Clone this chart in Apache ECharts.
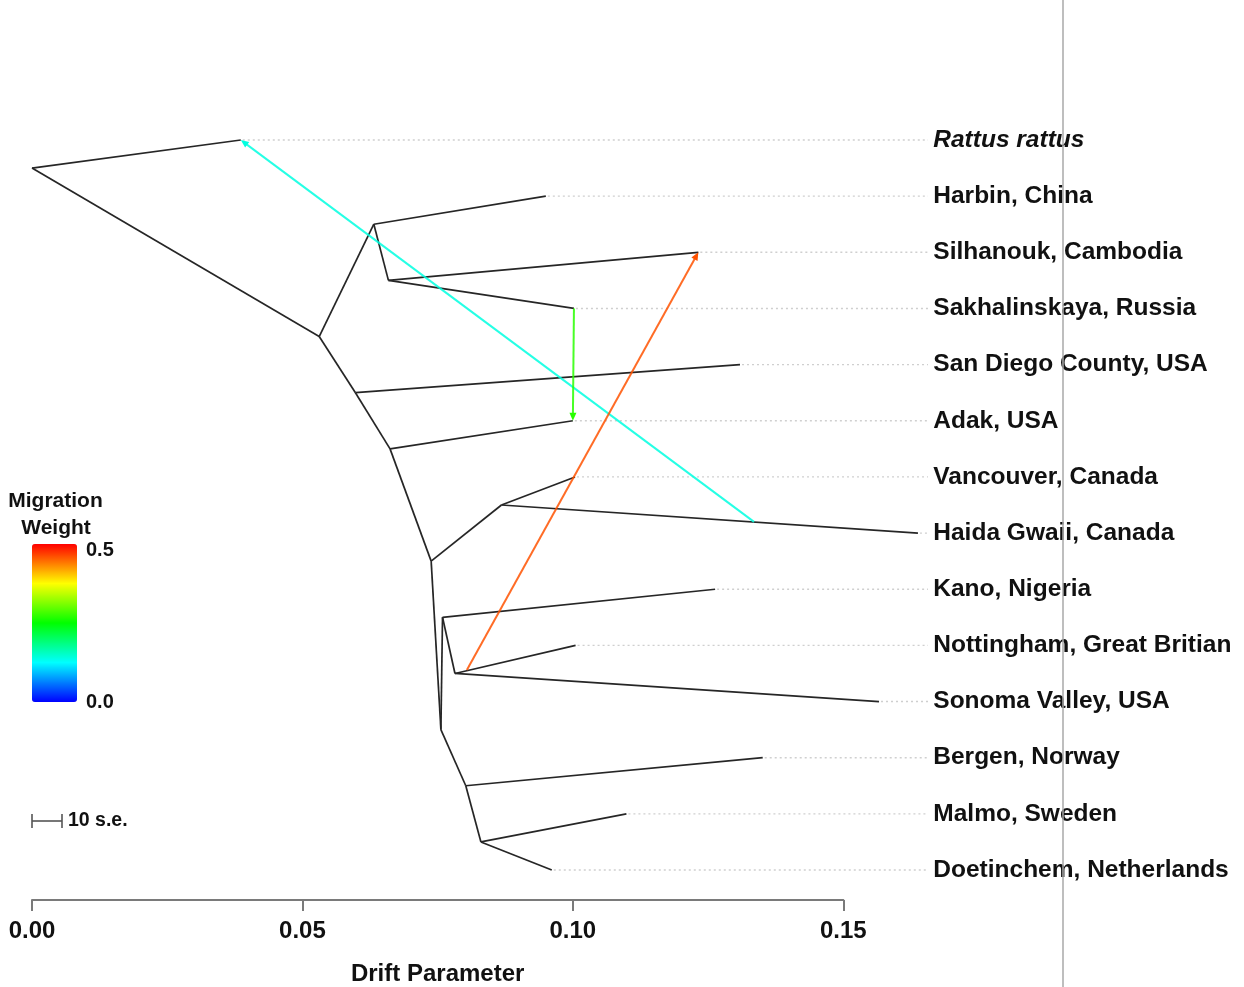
<!DOCTYPE html>
<html>
<head>
<meta charset="utf-8">
<script src="https://cdn.jsdelivr.net/npm/echarts@6/dist/echarts.min.js"></script>
<style>
  html, body { margin: 0; padding: 0; background: #ffffff; }
  #chart { width: 1244px; height: 987px; }
</style>
</head>
<body>
<div id="chart"></div>
<script>
// Population labels, top to bottom (row 0 .. 13)
const leafNames = [
  'Rattus rattus', 'Harbin, China', 'Silhanouk, Cambodia', 'Sakhalinskaya, Russia',
  'San Diego County, USA', 'Adak, USA', 'Vancouver, Canada', 'Haida Gwaii, Canada',
  'Kano, Nigeria', 'Nottingham, Great Britian', 'Sonoma Valley, USA', 'Bergen, Norway',
  'Malmo, Sweden', 'Doetinchem, Netherlands'
];

// Tree nodes: id, drift (x) and row (y)
const nodeIds = [
  'root', 'rattus', 'n1', 'n2', 'harbin', 'n3', 'silhanouk', 'sakhalinskaya',
  'n4', 'sandiego', 'n5', 'adak', 'n6', 'n7', 'vancouver', 'haida',
  'n8', 'n9', 'kano', 'n10', 'nottingham', 'sonoma', 'n11', 'bergen',
  'n12', 'malmo', 'doetinchem'
];
const nodeDrift = [
  0.0000, 0.0386, 0.0531, 0.0632, 0.0950, 0.0659, 0.1232, 0.1002,
  0.0598, 0.1309, 0.0662, 0.1000, 0.0738, 0.0868, 0.1004, 0.1638,
  0.0756, 0.0759, 0.1263, 0.0782, 0.1005, 0.1566, 0.0802, 0.1351,
  0.0830, 0.1099, 0.0961
];
const nodeRow = [
  0.5, 0, 3.5, 1.5, 1, 2.5, 2, 3,
  4.5, 4, 5.5, 5, 7.5, 6.5, 6, 7,
  10.5, 8.5, 8, 9.5, 9, 10, 11.5, 11,
  12.5, 12, 13
];

// Branches as parent -> child
const branchParent = [
  'root', 'root', 'n1', 'n2', 'n2', 'n3', 'n3', 'n1', 'n4', 'n4', 'n5', 'n5', 'n6',
  'n7', 'n7', 'n6', 'n8', 'n9', 'n9', 'n10', 'n10', 'n8', 'n11', 'n11', 'n12', 'n12'
];
const branchChild = [
  'rattus', 'n1', 'n2', 'harbin', 'n3', 'silhanouk', 'sakhalinskaya', 'n4', 'sandiego', 'n5', 'adak', 'n6', 'n7',
  'vancouver', 'haida', 'n8', 'n9', 'kano', 'n10', 'nottingham', 'sonoma', 'n11', 'bergen', 'n12', 'malmo', 'doetinchem'
];

// Leaf tips in row order
const leafIds = [
  'rattus', 'harbin', 'silhanouk', 'sakhalinskaya', 'sandiego', 'adak', 'vancouver',
  'haida', 'kano', 'nottingham', 'sonoma', 'bergen', 'malmo', 'doetinchem'
];

// Migration edges: source point [drift,row], target point [drift,row], weight
const migSource = [[0.1335, 6.80], [0.1002, 3], [0.0804, 9.44]];
const migTarget = [[0.0386, 0], [0.1000, 5], [0.1232, 2]];
const migWeight = [0.14, 0.27, 0.46];

// Axis ticks
const driftTicks = [0, 0.05, 0.10, 0.15];
const weightRange = [0, 0.5];

const FONT = '"Liberation Sans", Arial, Helvetica, sans-serif';
const INK = '#111111';

const pos = id => {
  const i = nodeIds.indexOf(id);
  return [nodeDrift[i], nodeRow[i]];
};

const branchData = branchParent.map((p, i) => {
  const a = pos(p), b = pos(branchChild[i]);
  return [a[0], a[1], b[0], b[1]];
});
const leafData = leafIds.map(id => pos(id));
const migData = migSource.map((s, i) => [s[0], s[1], migTarget[i][0], migTarget[i][1], migWeight[i]]);

function renderBranch(params, api) {
  const p = api.coord([api.value(0), api.value(1)]);
  const q = api.coord([api.value(2), api.value(3)]);
  return {
    type: 'line',
    shape: { x1: p[0], y1: p[1], x2: q[0], y2: q[1] },
    style: { stroke: '#262626', lineWidth: 1.7 }
  };
}

function renderGuide(params, api) {
  const p = api.coord([api.value(0), api.value(1)]);
  return {
    type: 'line',
    shape: { x1: p[0] + 2, y1: p[1], x2: 928, y2: p[1] },
    style: { stroke: '#cfcfcf', lineWidth: 1.4, lineDash: [2, 3] }
  };
}

function renderMigration(params, api) {
  const p = api.coord([api.value(0), api.value(1)]);
  const q = api.coord([api.value(2), api.value(3)]);
  const color = api.visual('color');
  const dx = q[0] - p[0], dy = q[1] - p[1];
  const len = Math.hypot(dx, dy);
  const ux = dx / len, uy = dy / len;
  const hl = 8, hw = 3.5;
  const bx = q[0] - ux * hl, by = q[1] - uy * hl;
  return {
    type: 'group',
    children: [
      { type: 'line', shape: { x1: p[0], y1: p[1], x2: bx + ux * 2, y2: by + uy * 2 },
        style: { stroke: color, lineWidth: 2, opacity: 0.85 } },
      { type: 'polygon',
        shape: { points: [[q[0], q[1]], [bx - uy * hw, by + ux * hw], [bx + uy * hw, by - ux * hw]] },
        style: { fill: color } }
    ]
  };
}

const chart = echarts.init(document.getElementById('chart'), null, { renderer: 'canvas' });

chart.setOption({
  animation: false,
  backgroundColor: '#ffffff',
  grid: { left: 32, right: 400.7, top: 140, bottom: 117, containLabel: false, outerBoundsMode: 'none' },
  xAxis: {
    type: 'value',
    position: 'bottom',
    min: 0,
    max: 0.15,
    interval: 0.05,
    offset: 30,
    name: 'Drift Parameter',
    nameLocation: 'middle',
    nameGap: 62,
    nameTextStyle: { fontFamily: FONT, fontWeight: 'bold', fontSize: 24, color: INK },
    axisLine: { show: true, onZero: false, lineStyle: { color: '#7a7a7a', width: 2 } },
    axisTick: { show: true, length: 11, customValues: driftTicks, lineStyle: { color: '#7a7a7a', width: 2 } },
    axisLabel: {
      customValues: driftTicks,
      margin: 19,
      fontFamily: FONT, fontWeight: 'bold', fontSize: 24, color: INK,
      formatter: v => v.toFixed(2)
    },
    splitLine: { show: false }
  },
  yAxis: {
    type: 'value',
    min: 0,
    max: 13,
    interval: 1,
    inverse: true,
    position: 'right',
    axisLine: { show: false },
    axisTick: { show: false },
    splitLine: { show: false },
    axisLabel: {
      margin: 90,
      align: 'left',
      fontFamily: FONT, fontWeight: 'bold', fontSize: 24.5, color: INK,
      formatter: v => {
        const name = leafNames[Math.round(v)];
        return Math.round(v) === 0 ? '{it|' + name + '}' : name;
      },
      rich: {
        it: { fontFamily: FONT, fontWeight: 'bold', fontStyle: 'italic', fontSize: 24.5, color: INK }
      }
    }
  },
  visualMap: {
    type: 'continuous',
    min: weightRange[0],
    max: weightRange[1],
    dimension: 4,
    seriesIndex: 2,
    calculable: false,
    hoverLink: false,
    text: null,
    left: 32,
    top: 544,
    padding: 0,
    itemWidth: 45,
    itemHeight: 158,
    inRange: { color: ['#0000ff', '#00ffff', '#00ff00', '#ffff00', '#ff0000'] }
  },
  graphic: [
    { type: 'line', silent: true, z: 100,
      shape: { x1: 1063, y1: 0, x2: 1063, y2: 987 },
      style: { stroke: '#a8a8a8', lineWidth: 1.5 } },
    { type: 'text', x: 55.5, y: 501, silent: true,
      style: { text: 'Migration', font: 'bold 21px ' + FONT, fill: INK, textAlign: 'center', textVerticalAlign: 'middle' } },
    { type: 'text', x: 56, y: 528, silent: true,
      style: { text: 'Weight', font: 'bold 21px ' + FONT, fill: INK, textAlign: 'center', textVerticalAlign: 'middle' } },
    { type: 'text', x: 86, y: 550, silent: true,
      style: { text: weightRange[1].toFixed(1), font: 'bold 20px ' + FONT, fill: INK, textAlign: 'left', textVerticalAlign: 'middle' } },
    { type: 'text', x: 86, y: 702, silent: true,
      style: { text: weightRange[0].toFixed(1), font: 'bold 20px ' + FONT, fill: INK, textAlign: 'left', textVerticalAlign: 'middle' } },
    // standard-error scale bar
    { type: 'line', silent: true, shape: { x1: 32, y1: 821, x2: 62, y2: 821 }, style: { stroke: '#555', lineWidth: 1.6 } },
    { type: 'line', silent: true, shape: { x1: 32, y1: 814, x2: 32, y2: 828 }, style: { stroke: '#555', lineWidth: 1.6 } },
    { type: 'line', silent: true, shape: { x1: 62, y1: 814, x2: 62, y2: 828 }, style: { stroke: '#555', lineWidth: 1.6 } },
    { type: 'text', x: 68, y: 821, silent: true,
      style: { text: '10 s.e.', font: 'bold 19.5px ' + FONT, fill: INK, textAlign: 'left', textVerticalAlign: 'middle' } }
  ],
  series: [
    {
      type: 'custom', name: 'guides', silent: true, z: 1,
      renderItem: renderGuide,
      encode: { x: 0, y: 1 },
      data: leafData
    },
    {
      type: 'custom', name: 'tree', silent: true, z: 2,
      renderItem: renderBranch,
      encode: { x: [0, 2], y: [1, 3] },
      data: branchData
    },
    {
      type: 'custom', name: 'migration', silent: true, z: 3,
      renderItem: renderMigration,
      encode: { x: [0, 2], y: [1, 3] },
      data: migData
    }
  ]
});
</script>
</body>
</html>
